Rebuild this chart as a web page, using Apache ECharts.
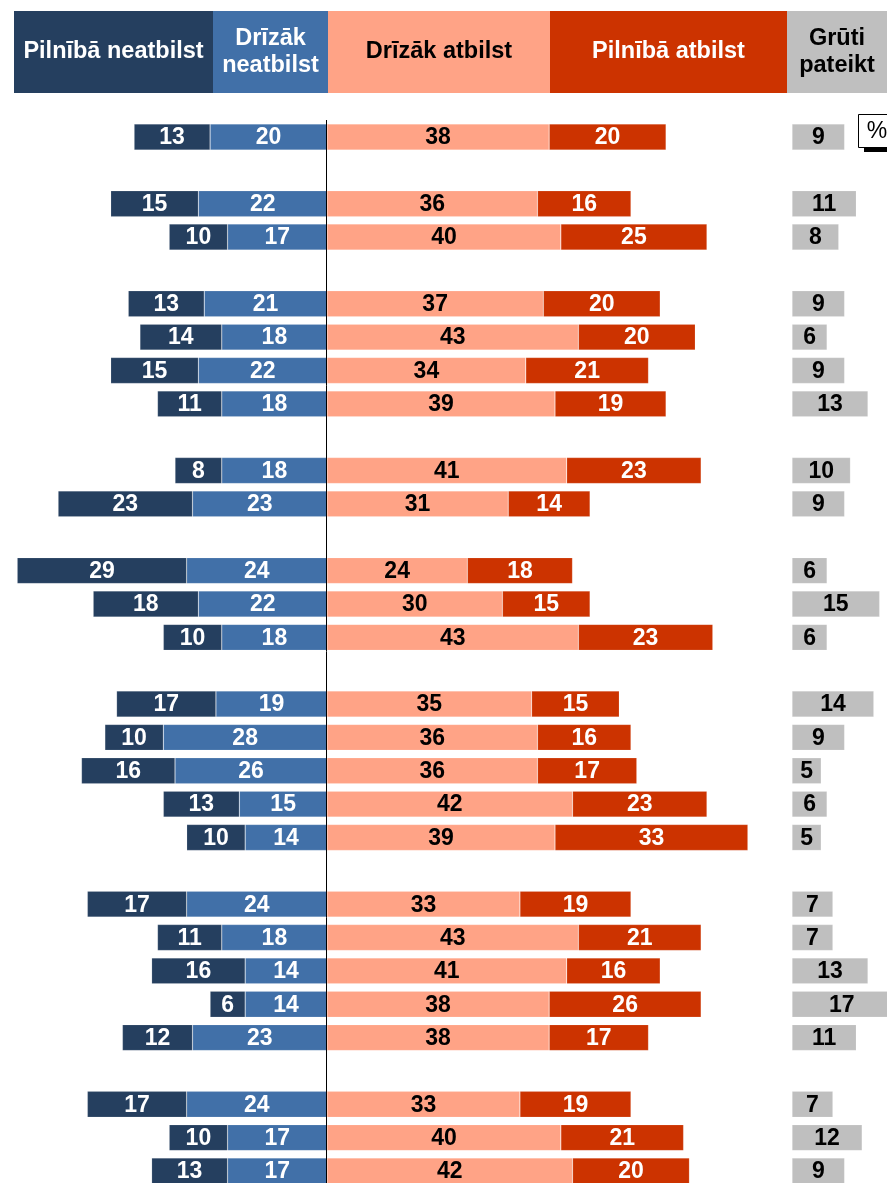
<!DOCTYPE html>
<html>
<head>
<meta charset="utf-8">
<script src="https://cdn.jsdelivr.net/npm/echarts@6/dist/echarts.min.js"></script>
<style>
html,body{margin:0;padding:0;background:#fff;}
#chart{width:887px;height:1183px;}
</style>
</head>
<body>
<div id="chart"></div>
<script>
// Row counts per block (blocks are separated by an empty row)
var groupSizes = [1, 2, 4, 2, 3, 5, 5, 3];
var seriesNames = ['Pilnībā neatbilst', 'Drīzāk neatbilst', 'Drīzāk atbilst', 'Pilnībā atbilst', 'Grūti pateikt'];
var pilnibaNeatbilst = [13, 15, 10, 13, 14, 15, 11, 8, 23, 29, 18, 10, 17, 10, 16, 13, 10, 17, 11, 16, 6, 12, 17, 10, 13];
var drizakNeatbilst  = [20, 22, 17, 21, 18, 22, 18, 18, 23, 24, 22, 18, 19, 28, 26, 15, 14, 24, 18, 14, 14, 23, 24, 17, 17];
var drizakAtbilst    = [38, 36, 40, 37, 43, 34, 39, 41, 31, 24, 30, 43, 35, 36, 36, 42, 39, 33, 43, 41, 38, 38, 33, 40, 42];
var pilnibaAtbilst   = [20, 16, 25, 20, 20, 21, 19, 23, 14, 18, 15, 23, 15, 16, 17, 23, 33, 19, 21, 16, 26, 17, 19, 21, 20];
var grutiPateikt     = [9, 11, 8, 9, 6, 9, 13, 10, 9, 6, 15, 6, 14, 9, 5, 6, 5, 7, 7, 13, 17, 11, 7, 12, 9];

var C_DARK = '#253F5F', C_BLUE = '#4170A8', C_SALMON = '#FFA386', C_RED = '#CC3300', C_GREY = '#BFBFBF';
var FONT = '"Liberation Sans", Arial, sans-serif';

// Build slot arrays with empty rows between blocks
function slots(arr, sign) {
  var out = [], k = 0;
  groupSizes.forEach(function (n, gi) {
    if (gi > 0) out.push(null);
    for (var i = 0; i < n; i++) { out.push(arr[k++] * sign); }
  });
  return out;
}
var cats = slots(pilnibaNeatbilst, 1).map(function (_, i) { return 'r' + i; });

var chart = echarts.init(document.getElementById('chart'), null, {renderer: 'canvas'});

var PX = 5.846;          // pixels per percentage point
var ZERO_X = 327;        // x of the 0 line
var MIN1 = -55, MAX1 = 75;
var ROW = 33.355;
var FIRST = 137;         // centre of first row
var H = ROW * (cats.length - 1);

function lbl(color) {
  return {
    show: true, position: 'inside', color: color, offset: [0, 1],
    fontFamily: FONT, fontWeight: 'bold', fontSize: 23,
    formatter: function (p) { return p.value == null ? '' : Math.abs(p.value); }
  };
}
function bar(name, data, stack, color, labelColor, axisIdx) {
  return {
    name: name, type: 'bar', stack: stack, data: data,
    xAxisIndex: axisIdx, yAxisIndex: axisIdx,
    barWidth: 26, barGap: '-100%',
    itemStyle: {color: color, borderColor: 'rgba(255,255,255,0.25)', borderWidth: 0.6},
    label: lbl(labelColor),
    emphasis: {disabled: true},
    clip: false,
    animation: false
  };
}

function headerBox(x, w, color, text, textColor) {
  return {
    type: 'rect', shape: {x: x, y: 11, width: w, height: 82},
    style: {fill: color},
    textContent: {
      style: {text: text, fill: textColor, font: 'bold 23.5px ' + FONT, align: 'center', verticalAlign: 'middle', lineHeight: 27}
    },
    textConfig: {position: 'inside'}
  };
}

var option = {
  backgroundColor: '#fff',
  animation: false,
  grid: [
    {left: ZERO_X + MIN1 * PX, top: FIRST, width: (MAX1 - MIN1) * PX, height: H},
    {left: 792, top: FIRST, width: 95, height: H}
  ],
  xAxis: [
    {gridIndex: 0, type: 'value', min: MIN1, max: MAX1, show: false},
    {gridIndex: 1, type: 'value', min: 0, max: 95 / PX, show: false}
  ],
  yAxis: [
    {gridIndex: 0, type: 'category', data: cats, inverse: true, boundaryGap: false, show: false},
    {gridIndex: 1, type: 'category', data: cats, inverse: true, boundaryGap: false, show: false}
  ],
  series: [
    bar(seriesNames[1], slots(drizakNeatbilst, -1), 'neg', C_BLUE, '#fff', 0),
    bar(seriesNames[0], slots(pilnibaNeatbilst, -1), 'neg', C_DARK, '#fff', 0),
    bar(seriesNames[2], slots(drizakAtbilst, 1), 'pos', C_SALMON, '#000', 0),
    bar(seriesNames[3], slots(pilnibaAtbilst, 1), 'pos', C_RED, '#fff', 0),
    bar(seriesNames[4], slots(grutiPateikt, 1), 'dk', C_GREY, '#000', 1)
  ],
  graphic: [
    headerBox(14, 199, C_DARK, 'Pilnībā neatbilst', '#fff'),
    headerBox(213, 115, C_BLUE, 'Drīzāk\nneatbilst', '#fff'),
    headerBox(328, 222, C_SALMON, 'Drīzāk atbilst', '#000'),
    headerBox(550, 237, C_RED, 'Pilnībā atbilst', '#fff'),
    headerBox(787, 100, C_GREY, 'Grūti\npateikt', '#000'),
    {type: 'line', z: 100, shape: {x1: 326.5, y1: 120, x2: 326.5, y2: 1183}, style: {stroke: '#000', lineWidth: 1}},
    {type: 'rect', shape: {x: 864, y: 147, width: 30, height: 5}, style: {fill: '#000'}},
    {type: 'rect', shape: {x: 858.5, y: 114.5, width: 40, height: 33}, style: {fill: '#fff', stroke: '#000', lineWidth: 1}},
    {type: 'text', x: 877, y: 132, style: {text: '%', fill: '#000', font: '23px ' + FONT, align: 'center', verticalAlign: 'middle'}}
  ]
};
chart.setOption(option);
</script>
</body>
</html>
